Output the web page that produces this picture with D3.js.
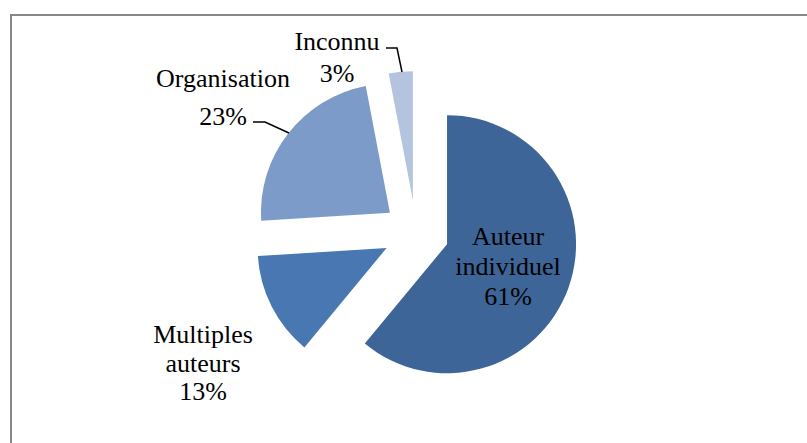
<!DOCTYPE html>
<html><head><meta charset="utf-8">
<script src="https://cdn.jsdelivr.net/npm/d3@7"></script>
<style>html,body{margin:0;padding:0;background:#fff;}svg{display:block;}
text{font-family:"Liberation Serif","Tinos","Times New Roman","DejaVu Serif",serif;}</style>
</head><body>
<svg id="chart" width="807" height="443"></svg>
<script>
const categories = ["Auteur individuel", "Multiples auteurs", "Organisation", "Inconnu"];
const values = [61, 13, 23, 3];
const labelLines = [["Auteur", "individuel", "61%"], ["Multiples", "auteurs", "13%"], ["Organisation", "23%"], ["Inconnu", "3%"]];
const colors = ["#3d6597", "#4877b2", "#7d9bc9", "#b5c4de"];

const svg = d3.select("#chart");
svg.append("rect").attr("x", 11).attr("y", 15).attr("width", 820).attr("height", 460)
  .attr("fill", "#fff").attr("stroke", "#878787").attr("stroke-width", 2);

const cx = 416, cy = 233, R = 129, explode = 33;
const pie = d3.pie().sort(null).value(d => d);
const arcs = pie(values);
const arc = d3.arc().innerRadius(0).outerRadius(R);

const g = svg.append("g").attr("transform", `translate(${cx},${cy})`);
arcs.forEach((a, i) => {
  const mid = (a.startAngle + a.endAngle) / 2;
  const ox = explode * Math.sin(mid), oy = -explode * Math.cos(mid);
  g.append("path").attr("d", arc(a)).attr("fill", colors[i])
    .attr("transform", `translate(${ox},${oy})`);
});

// label layout (positions of text blocks, not data)
const labelPos = [
  {x: 508, y: 245, lh: 30},
  {x: 203, y: 343, lh: 28.5},
  {x: 223, y: 87, lh: 38},
  {x: 337, y: 50, lh: 32}
];
labelLines.forEach((lines, i) => {
  const p = labelPos[i];
  const t = svg.append("text").attr("text-anchor", "middle")
    .attr("font-size", 26).attr("fill", "#000");
  lines.forEach((ln, j) => {
    t.append("tspan").attr("x", p.x).attr("y", p.y + j * p.lh).text(ln);
  });
});

// leader lines
const leaders = [
  [[253, 122], [265, 122], [289, 133]],
  [[386, 48], [397, 48], [402, 72]]
];
const line = d3.line();
leaders.forEach(pts => {
  svg.append("path").attr("d", line(pts)).attr("fill", "none")
    .attr("stroke", "#000").attr("stroke-width", 1.5);
});
</script>
</body></html>
